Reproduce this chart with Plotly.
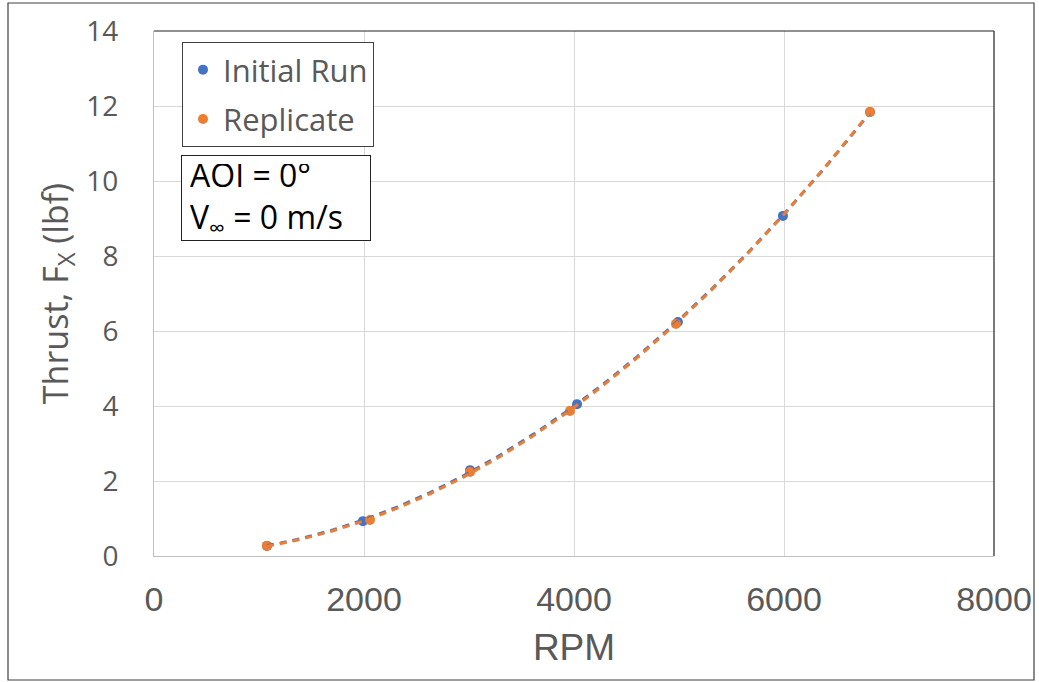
import numpy as np
import plotly.graph_objects as go

# Data
rpm_initial = [1076, 1990, 3010, 4029, 4990, 5990, 6819]
thrust_initial = [0.27, 0.93, 2.29, 4.05, 6.24, 9.07, 11.84]
rpm_replicate = [1076, 2057, 3010, 3962, 4971, 6819]
thrust_replicate = [0.27, 0.96, 2.24, 3.87, 6.19, 11.84]

x_ticks = [0, 2000, 4000, 6000, 8000]
y_ticks = [0, 2, 4, 6, 8, 10, 12, 14]

BLUE = "#4472C4"
ORANGE = "#ED7D31"
GREY_TXT = "#595959"

# plot-area geometry (pixels)
W, H = 1039, 682
L, R, T, B = 154, 994, 31, 556
pw, ph = R - L, B - T

def px(x):
    return (x - L) / pw

def py(y):
    return (B - y) / ph

fig = go.Figure()

def trend(xs, ys):
    c = np.polyfit(xs, ys, 2)
    xx = np.linspace(min(xs), max(xs), 200)
    return xx, np.polyval(c, xx)

for xs, ys, col, name in [(rpm_initial, thrust_initial, BLUE, "Initial Run"),
                          (rpm_replicate, thrust_replicate, ORANGE, "Replicate")]:
    fig.add_trace(go.Scatter(x=xs, y=ys, mode="markers", name=name, legendgroup=name,
                             marker=dict(color=col, size=10)))

for xs, ys, col in [(rpm_initial, thrust_initial, BLUE),
                    (rpm_replicate, thrust_replicate, ORANGE)]:
    xx, yy = trend(xs, ys)
    fig.add_trace(go.Scatter(x=xx, y=yy, mode="lines", showlegend=False,
                             line=dict(color=col, width=3, dash="7px,6px"),
                             hoverinfo="skip"))

XFONT = "Liberation Sans Narrow, Arial Narrow, sans-serif"

fig.update_layout(
    width=W, height=H,
    margin=dict(l=L, r=W - R, t=T, b=H - B),
    paper_bgcolor="white", plot_bgcolor="white",
    font=dict(family="Open Sans, sans-serif", color=GREY_TXT),
    showlegend=True,
    legend=dict(x=px(182), y=py(42), xanchor="left", yanchor="top",
                bgcolor="white", bordercolor="#404040", borderwidth=1,
                font=dict(size=31, color=GREY_TXT, family="Open Sans, sans-serif"),
                itemwidth=30, tracegroupgap=6),
    xaxis=dict(range=[0, 8000], tickvals=x_ticks, ticktext=[str(v) for v in x_ticks],
               automargin=False,
               showgrid=True, gridcolor="#d9d9d9", gridwidth=1,
               showline=True, linecolor="#bfbfbf", linewidth=1, zeroline=False,
               ticks="", ticklabelstandoff=13,
               tickfont=dict(size=34, family=XFONT, color=GREY_TXT),
               title=dict(text="RPM", standoff=17,
                          font=dict(size=37, family=XFONT, color=GREY_TXT))),
    yaxis=dict(range=[0, 14], tickvals=y_ticks, ticktext=[str(v) for v in y_ticks],
               automargin=False,
               showgrid=True, gridcolor="#d9d9d9", gridwidth=1,
               showline=True, linecolor="#bfbfbf", linewidth=1, zeroline=False,
               ticks="", ticklabelstandoff=29,
               tickfont=dict(size=28, color=GREY_TXT),
               title=dict(text="Thrust, F<sub>X</sub> (lbf)", standoff=7,
                          font=dict(size=34, color=GREY_TXT))),
)

# dark top/right plot-area border
fig.add_shape(type="line", xref="paper", yref="paper", x0=0, x1=1, y0=1, y1=1,
              line=dict(color="#222222", width=1.2))
fig.add_shape(type="line", xref="paper", yref="paper", x0=1, x1=1, y0=0, y1=1,
              line=dict(color="#222222", width=1.2))
# outer chart frame
fig.add_shape(type="rect", xref="paper", yref="paper",
              x0=px(8), x1=px(1034), y0=py(680), y1=py(3),
              line=dict(color="#404040", width=1.2), layer="below")

fig.add_annotation(xref="paper", yref="paper", x=px(181), y=py(155),
                   xanchor="left", yanchor="top", align="left", valign="middle",
                   showarrow=False,
                   text="AOI = 0°<br>V<sub>∞</sub> = 0 m/s",
                   width=172, height=68,
                   font=dict(size=32, color="black", family="Open Sans, sans-serif"),
                   bgcolor="white", bordercolor="#222222", borderwidth=1, borderpad=8)

fig.write_html("out.html")
